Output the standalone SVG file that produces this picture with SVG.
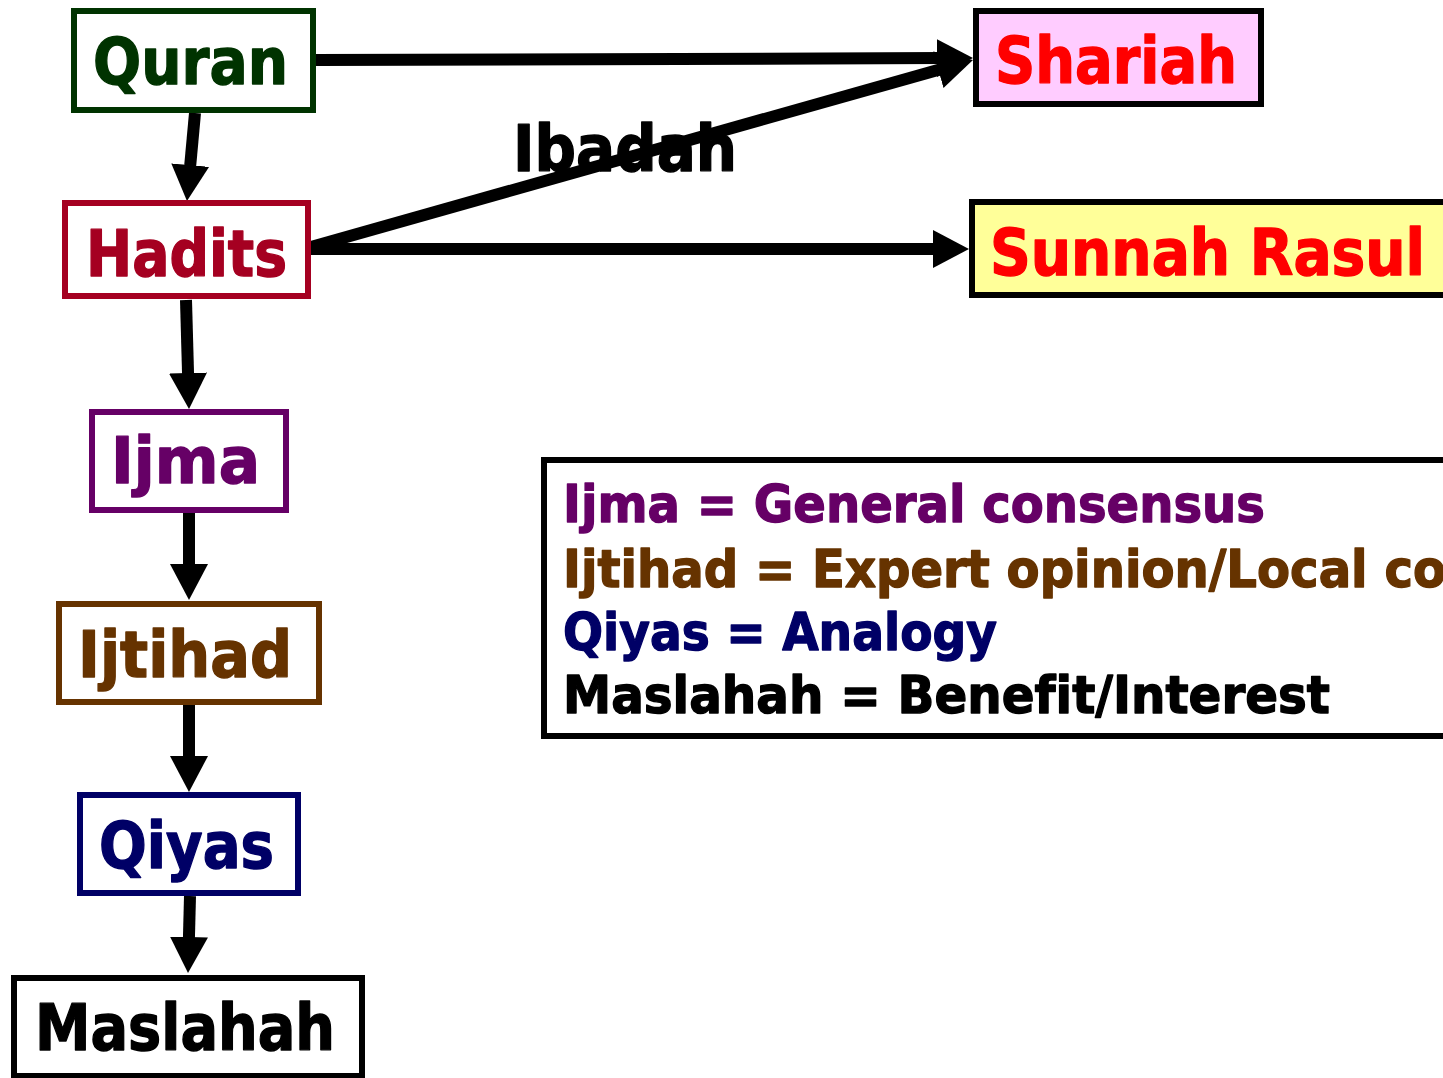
<svg xmlns="http://www.w3.org/2000/svg" width="1443" height="1078" viewBox="0 0 1443 1078">
<style>
.t{font-family:"DejaVu Sans",Verdana,sans-serif;font-weight:bold;font-variant-ligatures:none;stroke-width:1.4;stroke-linejoin:round;}
.n{font-size:64px;}
.lg{font-size:52px;}
.box{stroke-width:6;fill:#ffffff;}
.c{stroke:#000;stroke-width:12;fill:none;marker-end:url(#ah);}
</style>
<defs>
<marker id="ah" markerUnits="userSpaceOnUse" markerWidth="40" markerHeight="40" refX="6" refY="19" orient="auto">
<path d="M0,0 L36,19 L0,38 z" fill="#000"/>
</marker>
</defs>
<rect width="1443" height="1078" fill="#ffffff"/>
<g id="connectors">
<line class="c" x1="195" y1="113" x2="189.7" y2="171.1"/>
<line class="c" x1="186" y1="300" x2="188.2" y2="379"/>
<line class="c" x1="189" y1="513" x2="189" y2="570"/>
<line class="c" x1="189" y1="705" x2="189" y2="762"/>
<line class="c" x1="190" y1="896" x2="188.8" y2="943"/>
<line class="c" x1="316" y1="60" x2="943" y2="58.1"/>
<line class="c" x1="311" y1="247" x2="944.1" y2="68.2"/>
<line class="c" x1="311" y1="249" x2="939" y2="249"/>
<text class="t n" x="513" y="171" textLength="224" lengthAdjust="spacingAndGlyphs" fill="#000" stroke="#000">Ibadah</text>
</g>
<g id="quran">
<rect class="box" x="74" y="11" width="239" height="99" stroke="#003300"/>
<text class="t n" x="93" y="84" textLength="195" lengthAdjust="spacingAndGlyphs" fill="#003300" stroke="#003300">Quran</text>
</g>
<g id="hadits">
<rect class="box" x="65" y="203" width="243" height="93" stroke="#a50021"/>
<text class="t n" x="86" y="276" textLength="201" lengthAdjust="spacingAndGlyphs" fill="#a50021" stroke="#a50021">Hadits</text>
</g>
<g id="ijma">
<rect class="box" x="92" y="412" width="194" height="98" stroke="#660066"/>
<text class="t n" x="111" y="483" textLength="149" lengthAdjust="spacingAndGlyphs" fill="#660066" stroke="#660066">Ijma</text>
</g>
<g id="ijtihad">
<rect class="box" x="59" y="604" width="260" height="98" stroke="#663300"/>
<text class="t n" x="78" y="677" textLength="214" lengthAdjust="spacingAndGlyphs" fill="#663300" stroke="#663300">Ijtihad</text>
</g>
<g id="qiyas">
<rect class="box" x="80" y="795" width="218" height="98" stroke="#000066"/>
<text class="t n" x="99" y="868" textLength="175" lengthAdjust="spacingAndGlyphs" fill="#000066" stroke="#000066">Qiyas</text>
</g>
<g id="maslahah">
<rect class="box" x="14" y="978" width="348" height="98" stroke="#000000"/>
<text class="t n" x="35" y="1050" textLength="300" lengthAdjust="spacingAndGlyphs" fill="#000000" stroke="#000000">Maslahah</text>
</g>
<g id="shariah">
<rect x="976" y="11" width="285" height="93" fill="#ffccff" stroke="#000" stroke-width="6"/>
<text class="t n" x="995" y="83" textLength="242" lengthAdjust="spacingAndGlyphs" fill="#ff0000" stroke="#ff0000">Shariah</text>
</g>
<g id="sunnah-rasul">
<rect x="972" y="202" width="500" height="93" fill="#ffff99" stroke="#000" stroke-width="6"/>
<text class="t n" x="990" y="275" textLength="435" lengthAdjust="spacingAndGlyphs" fill="#ff0000" stroke="#ff0000">Sunnah Rasul</text>
</g>
<g id="legend">
<rect x="544" y="460" width="950" height="276" fill="#ffffff" stroke="#000" stroke-width="6"/>
<text class="t lg" x="563" y="522" textLength="702" lengthAdjust="spacingAndGlyphs" fill="#660066" stroke="#660066">Ijma = General consensus</text>
<text class="t lg" x="563" y="587" textLength="883" lengthAdjust="spacingAndGlyphs" fill="#663300" stroke="#663300">Ijtihad = Expert opinion/Local co</text>
<text class="t lg" x="563" y="650" textLength="434" lengthAdjust="spacingAndGlyphs" fill="#000066" stroke="#000066">Qiyas = Analogy</text>
<text class="t lg" x="563" y="713" textLength="767" lengthAdjust="spacingAndGlyphs" fill="#000000" stroke="#000000">Maslahah = Benefit/Interest</text>
</g>
</svg>
